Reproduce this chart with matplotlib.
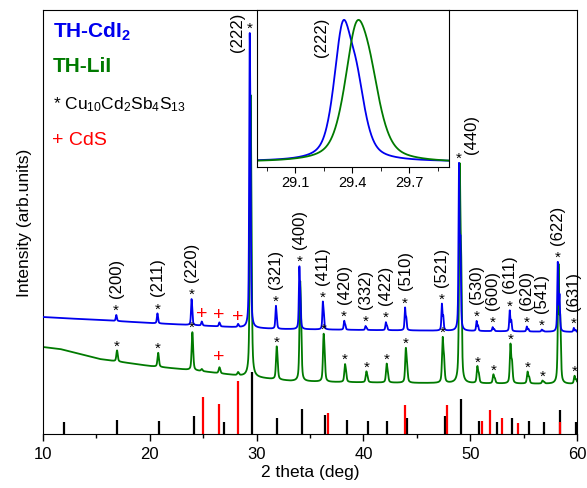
import numpy as np
import matplotlib
matplotlib.use("Agg")
import matplotlib.pyplot as plt
from matplotlib.ticker import MultipleLocator

plt.rcParams['font.family'] = ['Liberation Sans', 'DejaVu Sans']
plt.rcParams['mathtext.fontset'] = 'custom'
plt.rcParams['mathtext.rm'] = 'Liberation Sans'
plt.rcParams['mathtext.it'] = 'Liberation Sans:italic'
plt.rcParams['mathtext.bf'] = 'Liberation Sans:bold'

# tetrahedrite reflections seen in both samples
hkl = ["(200)", "(211)", "(220)", "(222)", "(321)", "(400)", "(411)", "(420)", "(332)", "(422)",
       "(510)", "(521)", "(440)", "(530)", "(600)", "(611)", "(620)", "(541)", "(622)", "(631)"]
peak_pos = [16.85, 20.7, 23.9, 29.35, 31.8, 34.0, 36.2, 38.2, 40.2, 42.1,
            43.9, 47.35, 48.95, 50.6, 52.1, 53.7, 55.3, 56.7, 58.2, 59.7]
cdi2_amp = [6, 10, 26, 295, 23, 63, 28, 9, 4, 8, 23, 27, 168, 10, 4, 21, 5, 2, 70, 4]
lii_amp = [11, 14, 38, 282, 33, 100, 48, 18, 11, 19, 35, 46, 220, 17, 9, 40, 12, 3, 120, 8]
lii_shift = 0.07

# CdS impurity peaks
cds_pos = [24.85, 26.5, 28.25]
cdi2_cds_amp = [4, 4, 3]
lii_cds_amp = [2, 6, 3]

# background
cdi2_bg_x = [10, 11.6, 15.3, 20, 27.5, 32, 40, 50, 60]
cdi2_bg_y = [117, 116, 114, 111, 107, 105, 104, 103, 102]
lii_bg_x = [10, 11.6, 15.3, 20, 24.7, 28.5, 33.2, 37, 45, 60]
lii_bg_y = [87, 85, 75, 68, 63, 58, 53, 52, 51, 50]

# reference patterns
ref_cu_pos = [11.97, 16.97, 20.82, 24.1, 26.95, 29.53, 31.9, 34.25, 36.45, 38.5, 40.4,
              42.24, 44.1, 47.62, 49.18, 50.84, 52.47, 53.9, 55.47, 56.94, 58.4, 59.9]
ref_cu_h = [12, 14, 13, 18, 12, 62, 16, 25, 19, 14, 13, 13, 16, 18, 35, 13, 12, 16, 13, 12, 24, 12]
ref_cds_pos = [24.94, 26.5, 28.23, 36.67, 43.86, 47.87, 51.06, 51.87, 52.94, 54.5, 58.4]
ref_cds_h = [37, 30, 53, 21, 29, 29, 13, 24, 16, 11, 12]

BLUE = '#0000ee'
GREEN = '#007a00'
RED = '#ff0000'


def pv(t, fwhm, eta=0.55):
    g = np.exp(-4 * np.log(2) * (t / fwhm) ** 2)
    l = 1 / (1 + 4 * (t / fwhm) ** 2)
    return eta * l + (1 - eta) * g


def peak(x, x0, fwhm):
    # Ka1 + Ka2 doublet, scaled so the top is 1
    d = 2 * np.degrees(np.tan(np.radians(x0 / 2)) * 0.0025)
    t = np.linspace(-0.3, 0.3, 3001)
    top = (pv(t, fwhm) + 0.5 * pv(t - d, fwhm)).max()
    return (pv(x - x0, fwhm) + 0.5 * pv(x - x0 - d, fwhm)) / top


def pattern(x, bg_x, bg_y, pos, amp, cpos, camp, fwhm, shift=0.0):
    y = np.interp(x, bg_x, bg_y)
    for p, a in zip(pos, amp):
        y = y + a * peak(x, p + shift, fwhm)
    for p, a in zip(cpos, camp):
        y = y + a * peak(x, p, fwhm)
    return y


x = np.arange(10, 60.0001, 0.004)
y_cdi2 = pattern(x, cdi2_bg_x, cdi2_bg_y, peak_pos, cdi2_amp, cds_pos, cdi2_cds_amp, 0.11)
y_lii = pattern(x, lii_bg_x, lii_bg_y, peak_pos, lii_amp, cds_pos, lii_cds_amp, 0.145, lii_shift)

fig = plt.figure(figsize=(5.87, 4.89), dpi=100)
ax = fig.add_axes([43 / 587, 54 / 489, 534 / 587, 424 / 489])

ax.vlines(ref_cu_pos, 0, ref_cu_h, color='black', lw=1.6, zorder=1)
ax.vlines(ref_cds_pos, 0, ref_cds_h, color=RED, lw=1.6, zorder=1.5)
ax.plot(x, y_lii, color=GREEN, lw=1.3, zorder=2)
ax.plot(x, y_cdi2, color=BLUE, lw=1.3, zorder=3)

# markers and hkl labels
for i, p in enumerate(peak_pos):
    top_b = np.interp(p, cdi2_bg_x, cdi2_bg_y) + cdi2_amp[i]
    ax.text(p, top_b + 1, '*', ha='center', va='baseline', fontsize=11, zorder=5)
    if hkl[i] == "(222)":
        ax.text(p - 1.15, 422, hkl[i], rotation=90, ha='center', va='top', fontsize=12, zorder=5)
    elif hkl[i] == "(440)":
        ax.text(p + 1.2, top_b + 10, hkl[i], rotation=90, ha='center', va='bottom', fontsize=12, zorder=5)
    else:
        ax.text(p, top_b + 18, hkl[i], rotation=90, ha='center', va='bottom', fontsize=12, zorder=5)
    if hkl[i] not in ("(222)", "(400)", "(440)", "(622)"):
        top_g = np.interp(p, lii_bg_x, lii_bg_y) + lii_amp[i]
        ax.text(p + lii_shift, top_g + 1, '*', ha='center', va='baseline', fontsize=11, zorder=5)

for i, p in enumerate(cds_pos):
    top_b = np.interp(p, cdi2_bg_x, cdi2_bg_y) + cdi2_cds_amp[i]
    ax.text(p, top_b + 8, '+', color=RED, ha='center', va='center', fontsize=14, zorder=5)
top_g = np.interp(cds_pos[1], lii_bg_x, lii_bg_y) + lii_cds_amp[1]
ax.text(cds_pos[1], top_g + 11, '+', color=RED, ha='center', va='center', fontsize=14, zorder=5)

ax.set_xlim(10, 60)
ax.set_ylim(0, 424)
ax.set_yticks([])
ax.xaxis.set_major_locator(MultipleLocator(10))
ax.xaxis.set_minor_locator(MultipleLocator(5))
ax.tick_params(axis='x', which='major', direction='out', length=5, width=1, labelsize=12)
ax.tick_params(axis='x', which='minor', direction='out', length=3, width=1)
ax.set_xlabel('2 theta (deg)', fontsize=12.5, labelpad=2)
ax.set_ylabel('Intensity (arb.units)', fontsize=12.5, labelpad=8)

# legend-like labels
ax.text(0.019, 0.936, r'TH-CdI$_\mathbf{2}$', transform=ax.transAxes, color=BLUE,
        fontsize=15, fontweight='bold', va='baseline')
ax.text(0.019, 0.856, 'TH-LiI', transform=ax.transAxes, color=GREEN,
        fontsize=15, fontweight='bold', va='baseline')
ax.text(0.019, 0.767, r'* Cu$_{10}$Cd$_2$Sb$_4$S$_{13}$', transform=ax.transAxes,
        fontsize=12.5, va='baseline')
ax.text(0.017, 0.684, '+ CdS', transform=ax.transAxes, color=RED, fontsize=14, va='baseline')

# inset: (222) peak, normalised
axin = fig.add_axes([257 / 587, 321 / 489, 192 / 587, 157 / 489], zorder=10)
xi = np.arange(28.9, 29.91, 0.002)
yi_cdi2 = pattern(xi, cdi2_bg_x, cdi2_bg_y, peak_pos, cdi2_amp, cds_pos, cdi2_cds_amp, 0.11)
yi_lii = pattern(xi, lii_bg_x, lii_bg_y, peak_pos, lii_amp, cds_pos, lii_cds_amp, 0.145, lii_shift)
yi_cdi2 = (yi_cdi2 - yi_cdi2.min()) / (yi_cdi2.max() - yi_cdi2.min())
yi_lii = (yi_lii - yi_lii.min()) / (yi_lii.max() - yi_lii.min())
axin.plot(xi, yi_cdi2, color=BLUE, lw=1.3)
axin.plot(xi, yi_lii, color=GREEN, lw=1.3)
axin.set_xlim(28.9, 29.91)
axin.set_ylim(-0.045, 1.07)
axin.set_yticks([])
axin.xaxis.set_minor_locator(MultipleLocator(0.15))
axin.set_xticks([29.1, 29.4, 29.7])
axin.tick_params(axis='x', which='major', direction='out', length=4, labelsize=10.5, pad=2)
axin.tick_params(axis='x', which='minor', direction='out', length=3)
axin.text(29.24, 0.96, '(222)', transform=axin.get_xaxis_transform(), rotation=90,
          ha='center', va='top', fontsize=12)

fig.savefig('out.png', dpi=100)
